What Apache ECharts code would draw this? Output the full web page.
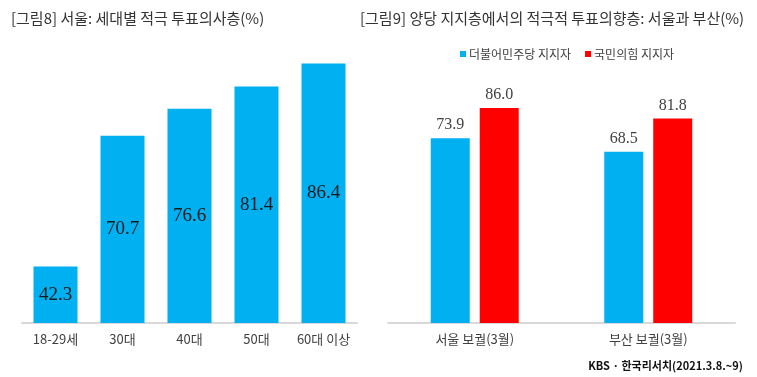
<!DOCTYPE html>
<html>
<head>
<meta charset="utf-8">
<script src="https://cdn.jsdelivr.net/npm/echarts@6/dist/echarts.min.js"></script>
<style>
  html, body { margin: 0; padding: 0; background: #fff; }
  #chart { width: 757px; height: 377px; }
</style>
</head>
<body>
<div id="chart"></div>
<script>
// 그림8: 서울 세대별 적극 투표의사층
const ageCategories = ['18-29세', '30대', '40대', '50대', '60대 이상'];
const ageValues = [42.3, 70.7, 76.6, 81.4, 86.4];

// 그림9: 양당 지지층 적극 투표의향층
const regionCategories = ['서울 보궐(3월)', '부산 보궐(3월)'];
const demValues = [73.9, 68.5];
const pppValues = [86.0, 81.8];
const seriesNames = ['더불어민주당 지지자', '국민의힘 지지자'];

const blue = '#00B0F0';
const red = '#FF0000';
const krFont = '"Noto Sans CJK KR", sans-serif';
const numFont = '"Liberation Serif", "DejaVu Serif", serif';

const chart = echarts.init(document.getElementById('chart'));

const axisX = (idx, data) => ({
  type: 'category',
  gridIndex: idx,
  data: data,
  axisLine: { lineStyle: { color: '#d9d9d9', width: 2 } },
  axisTick: { show: false },
  axisLabel: { interval: 0, color: '#404040', fontSize: 13, fontFamily: krFont, margin: 10 }
});

chart.setOption({
  animation: false,
  title: [
    {
      text: '[그림8] 서울: 세대별 적극 투표의사층(%)',
      left: 6, top: 6,
      textStyle: { fontSize: 15, fontWeight: 'normal', color: '#333', fontFamily: krFont }
    },
    {
      text: '[그림9] 양당 지지층에서의 적극적 투표의향층: 서울과 부산(%)',
      left: 355, top: 6,
      textStyle: { fontSize: 15, fontWeight: 'normal', color: '#333', fontFamily: krFont }
    },
    {
      text: 'KBS · 한국리서치(2021.3.8.~9)',
      right: 9, top: 355,
      textStyle: { fontSize: 11, fontWeight: 'bold', color: '#111', fontFamily: krFont }
    }
  ],
  legend: {
    data: seriesNames,
    left: 455, top: 43,
    icon: 'rect',
    itemWidth: 6, itemHeight: 6, itemGap: 14,
    textStyle: { fontSize: 12, color: '#404040', fontFamily: krFont, padding: [0, 0, 0, -2] }
  },
  grid: [
    { left: 22, right: 400, top: 47, bottom: 54 },
    { left: 388, right: 22, top: 73, bottom: 54 }
  ],
  xAxis: [axisX(0, ageCategories), axisX(1, regionCategories)],
  yAxis: [
    { type: 'value', gridIndex: 0, min: 30, max: 90, show: false },
    { type: 'value', gridIndex: 1, min: 0, max: 100, show: false }
  ],
  series: [
    {
      type: 'bar', xAxisIndex: 0, yAxisIndex: 0,
      data: ageValues, barWidth: 44,
      itemStyle: { color: blue },
      label: {
        show: true, position: 'inside', color: '#1a1a1a',
        fontSize: 19, fontFamily: numFont,
        formatter: p => p.value.toFixed(1)
      }
    },
    {
      name: seriesNames[0], type: 'bar', xAxisIndex: 1, yAxisIndex: 1,
      data: demValues, barWidth: 39, barGap: '25.6%',
      itemStyle: { color: blue },
      label: {
        show: true, position: 'top', distance: 5, color: '#404040',
        fontSize: 16, fontFamily: numFont,
        formatter: p => p.value.toFixed(1)
      }
    },
    {
      name: seriesNames[1], type: 'bar', xAxisIndex: 1, yAxisIndex: 1,
      data: pppValues, barWidth: 39, barGap: '25.6%',
      itemStyle: { color: red },
      label: {
        show: true, position: 'top', distance: 5, color: '#404040',
        fontSize: 16, fontFamily: numFont,
        formatter: p => p.value.toFixed(1)
      }
    }
  ]
});
</script>
</body>
</html>
